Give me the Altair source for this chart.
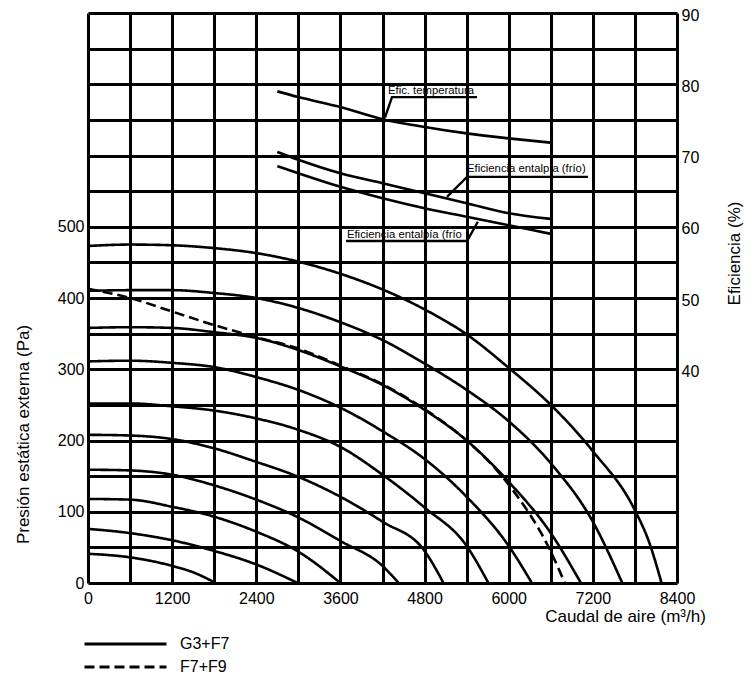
import altair as alt
import pandas as pd

# ---- Fan curves: caudal (m3/h) vs presión estática externa (Pa) ----
curve_names = ["c1", "c2", "c3", "c4", "c5", "c6", "c7", "c8", "c9", "c10", "d1"]
curve_filters = ["G3+F7"] * 10 + ["F7+F9"]
curve_q = [
    [0, 600, 1200, 1500, 1820],
    [0, 600, 1200, 1800, 2400, 2990],
    [0, 600, 1200, 1800, 2400, 3000, 3600],
    [0, 600, 1200, 1800, 2400, 3000, 3600, 4200, 4430],
    [0, 600, 1200, 1800, 2400, 3000, 3600, 4200, 4800, 5070],
    [0, 600, 1200, 1800, 2400, 3000, 3600, 4200, 4800, 5400, 5710],
    [0, 600, 1200, 1800, 2400, 3000, 3600, 4200, 4800, 5400, 6000, 6330],
    [0, 600, 1200, 1800, 2400, 3000, 3600, 4200, 4800, 5400, 6000, 6600, 7030],
    [0, 600, 1200, 1800, 2400, 3000, 3600, 4200, 4800, 5400, 6000, 6600, 7200, 7620],
    [0, 600, 1200, 1800, 2400, 3000, 3600, 4200, 4800, 5400, 6000, 6600, 7200, 7800, 8000, 8180],
    [0, 600, 1200, 1800, 2400, 3000, 3600, 4200, 4800, 5400, 6000, 6600, 6800],
]
curve_p = [
    [41, 36, 24, 15, 0],
    [76, 70, 60, 45, 26, 0],
    [118, 117, 107, 93, 72, 44, 0],
    [159, 158, 152, 137, 117, 92, 59, 24, 0],
    [208, 207, 202, 189, 170, 149, 121, 86, 45, 0],
    [252, 252, 248, 242, 231, 215, 191, 152, 106, 52, 0],
    [311, 312, 309, 303, 289, 271, 246, 213, 174, 121, 52, 0],
    [358, 359, 358, 352, 344, 327, 304, 278, 243, 200, 142, 70, 0],
    [410, 411, 411, 407, 400, 386, 366, 341, 308, 271, 227, 168, 86, 0],
    [473, 475, 474, 470, 463, 451, 434, 412, 384, 349, 302, 250, 185, 102, 58, 0],
    [413, 400, 381, 362, 345, 329, 305, 279, 244, 200, 138, 44, 0],
]

# ---- Efficiency curves (%) ----
eff_q = [2700, 3000, 3600, 4200, 4800, 5400, 6000, 6600]
eff_temp = [79.0, 78.2, 76.8, 75.1, 74.0, 73.1, 72.4, 71.8]
eff_ent_sup = [70.5, 69.4, 67.5, 66.1, 64.7, 63.3, 61.9, 61.1]
eff_ent_inf = [68.5, 67.5, 65.6, 64.0, 62.6, 61.4, 60.2, 59.0]

# ---- Annotation leaders and labels ----
lead_names = ["temp", "ent_sup", "ent_inf"]
lead_q = [[4235, 4335, 5547], [5120, 5405, 7130], [3680, 5405, 5560]]
lead_e = [[75.3, 78.2, 78.2], [64.2, 67.0, 67.0], [58.0, 58.0, 60.7]]
label_text = ["Efic. temperatura", "Eficiencia entalpía (frío)", "Eficiencia entalpía (frío"]
label_q = [4278, 5405, 3693]
label_e = [78.6, 67.7, 58.4]

x_ticks = list(range(0, 8401, 600))
y_ticks = list(range(0, 801, 50))
eff_ticks = [40, 50, 60, 70, 80, 90]

FONT = "Liberation Sans"

rows = []
for name, filt, qs, ps in zip(curve_names, curve_filters, curve_q, curve_p):
    for i, (q, p) in enumerate(zip(qs, ps)):
        rows.append({"curva": name, "filtro": filt, "q": q, "p": p, "i": i})
fan_df = pd.DataFrame(rows)

eff_rows = []
for name, vals in [("temp", eff_temp), ("ent_sup", eff_ent_sup), ("ent_inf", eff_ent_inf)]:
    for i, (q, e) in enumerate(zip(eff_q, vals)):
        eff_rows.append({"curva": name, "q": q, "e": e, "i": i})
eff_df = pd.DataFrame(eff_rows)

lead_rows = []
for name, qs, es in zip(lead_names, lead_q, lead_e):
    for i, (q, e) in enumerate(zip(qs, es)):
        lead_rows.append({"lead": name, "q": q, "e": e, "i": i})
lead_df = pd.DataFrame(lead_rows)

label_df = pd.DataFrame({"txt": label_text, "q": label_q, "e": label_e})

x_scale = alt.Scale(domain=[0, 8400], nice=False, zero=False)
p_scale = alt.Scale(domain=[0, 800], nice=False, zero=False)
e_scale = alt.Scale(domain=[10, 90], nice=False, zero=False)

x_axis = alt.Axis(
    values=x_ticks,
    labelExpr="datum.value % 1200 == 0 ? datum.label : ''",
    grid=True, gridColor="black", gridWidth=3, gridOpacity=1,
    ticks=False, tickSize=0, domain=False,
    labelFlush=False, labelOverlap=False, labelPadding=7,
    labelFont=FONT, labelFontSize=16, labelColor="black",
    format="d",
    title="Caudal de aire (m³/h)", titleFont=FONT, titleFontSize=17,
    titleFontWeight="normal", titleColor="black",
    titleX=537, titleY=25, titleAlign="center", titleBaseline="top",
)
p_axis = alt.Axis(
    values=y_ticks,
    labelExpr="datum.value <= 500 && datum.value % 100 == 0 ? datum.label : ''",
    grid=True, gridColor="black", gridWidth=3, gridOpacity=1,
    ticks=False, tickSize=0, domain=False,
    labelFlush=False, labelOverlap=False, labelPadding=4,
    labelFont=FONT, labelFontSize=16, labelColor="black",
    format="d",
    title="Presión estática externa (Pa)", titleFont=FONT, titleFontSize=17,
    titleFontWeight="normal", titleColor="black",
    titleX=-65, titleY=421, titleAngle=270, titleAlign="center", titleBaseline="middle",
)
e_axis = alt.Axis(
    orient="right", values=eff_ticks, grid=False,
    ticks=False, tickSize=0, domain=False,
    labelFlush=False, labelOverlap=False, labelPadding=4, labelOffset=2,
    labelFont=FONT, labelFontSize=16, labelColor="black",
    format="d",
    title="Eficiencia (%)", titleFont=FONT, titleFontSize=17,
    titleFontWeight="normal", titleColor="black",
    titleX=57, titleY=240, titleAngle=270, titleAlign="center", titleBaseline="middle",
)

X = alt.X("q:Q", scale=x_scale, axis=x_axis)
E = alt.Y("e:Q", scale=e_scale, axis=e_axis)

fan = alt.Chart(fan_df).mark_line(
    color="black", strokeWidth=2.6, interpolate="monotone"
).encode(
    x=X,
    y=alt.Y("p:Q", scale=p_scale, axis=p_axis),
    detail="curva:N",
    order="i:Q",
    strokeDash=alt.StrokeDash(
        "filtro:N",
        scale=alt.Scale(domain=["G3+F7", "F7+F9"], range=[[1, 0], [10, 5]]),
        legend=alt.Legend(
            title=None, orient="none", legendX=-5, legendY=623,
            symbolType="stroke", symbolSize=6724, symbolStrokeWidth=3,
            symbolStrokeColor="black", clipHeight=16,
            labelFont=FONT, labelFontSize=16, labelColor="black",
            labelOffset=12, rowPadding=7,
        ),
    ),
)

eff_lines = alt.Chart(eff_df).mark_line(
    color="black", strokeWidth=2.6, interpolate="monotone"
).encode(x=X, y=E, detail="curva:N", order="i:Q")

leaders = alt.Chart(lead_df).mark_line(color="black", strokeWidth=2.4).encode(
    x=X, y=E, detail="lead:N", order="i:Q"
)

labels = alt.Chart(label_df).mark_text(
    align="left", baseline="alphabetic", font=FONT, fontSize=11.3, color="black"
).encode(x=X, y=E, text="txt:N")

eff_layer = alt.layer(eff_lines, leaders, labels)

chart = alt.layer(fan, eff_layer).resolve_scale(y="independent").properties(
    width=589, height=570,
    autosize=alt.AutoSizeParams(type="none"),
    padding={"left": 80, "top": 5, "right": 70, "bottom": 92},
    background="white",
).configure_view(stroke=None)

chart.save("out.html", embed_options={"renderer": "svg", "actions": False})
